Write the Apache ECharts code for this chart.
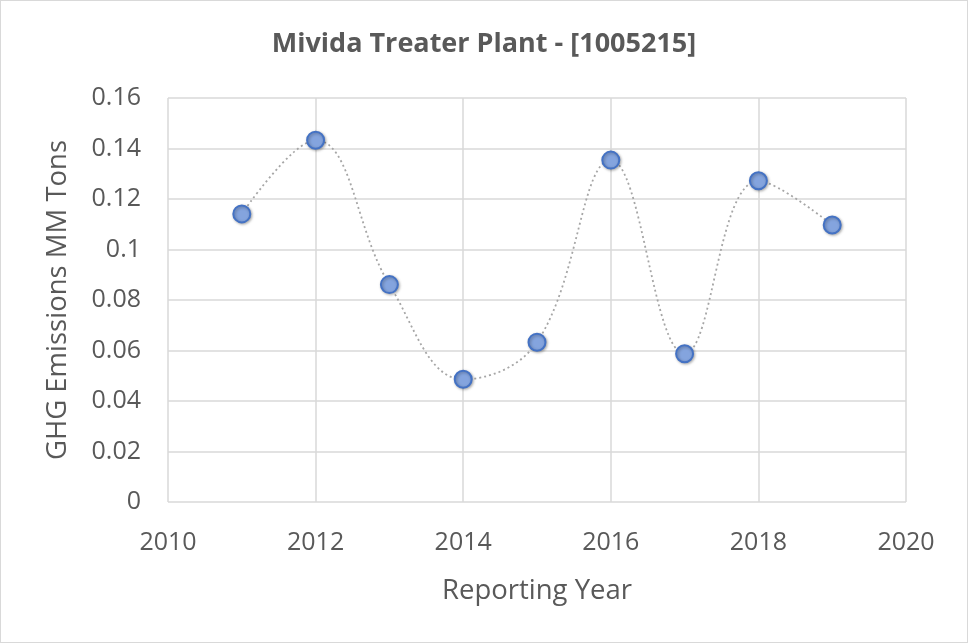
<!DOCTYPE html>
<html><head><meta charset="utf-8">
<script src="https://cdn.jsdelivr.net/npm/echarts@6/dist/echarts.min.js"></script>
<style>html,body{margin:0;padding:0;background:#fff}#c{width:968px;height:643px;box-sizing:border-box;border:1.5px solid #d9d9d9}</style>
</head><body><div id="c"></div>
<script>
const titleText = 'Mivida Treater Plant - [1005215]';
const years = [2011, 2012, 2013, 2014, 2015, 2016, 2017, 2018, 2019];
const emissions = [0.1141, 0.1433, 0.0861, 0.0486, 0.0633, 0.1354, 0.0587, 0.1272, 0.1097];
const xAxisName = 'Reporting Year';
const yAxisName = 'GHG Emissions MM Tons';

const chart = echarts.init(document.getElementById('c'));
const font = 'Open Sans, Noto Sans, sans-serif';
chart.setOption({
  animation: false,
  title: { text: titleText, left: 'center', top: 25,
    textStyle: { fontFamily: font, fontSize: 27, fontWeight: 'bold', color: '#595959' } },
  grid: { left: 167, right: 61, top: 97, bottom: 140, containLabel: false },
  xAxis: { type: 'value', min: 2010, max: 2020, interval: 2,
    name: xAxisName, nameLocation: 'middle', nameGap: 75,
    nameTextStyle: { fontFamily: font, fontSize: 27.5, color: '#595959' },
    axisLine: { show: false }, axisTick: { show: false },
    axisLabel: { fontFamily: font, fontSize: 25, color: '#595959', margin: 28,
      formatter: v => String(v) },
    splitLine: { show: true, lineStyle: { color: '#d9d9d9', width: 1.5 } } },
  yAxis: { type: 'value', min: 0, max: 0.16, interval: 0.02,
    name: yAxisName, nameLocation: 'middle', nameGap: 96, nameRotate: 90,
    nameTextStyle: { fontFamily: font, fontSize: 27.5, color: '#595959' },
    axisLine: { show: false }, axisTick: { show: false },
    axisLabel: { fontFamily: font, fontSize: 25, color: '#595959', margin: 27,
      formatter: v => String(Math.round(v * 100) / 100) },
    splitLine: { show: true, lineStyle: { color: '#d9d9d9', width: 1.5 } } },
  series: [{
    type: 'line', data: years.map((y, i) => [y, emissions[i]]),
    smooth: 0.4,
    lineStyle: { color: '#a6a6a6', width: 1.8, type: [2, 3] },
    symbol: 'circle', symbolSize: 17,
    itemStyle: { color: '#84a4de', borderColor: '#4472c4', borderWidth: 2,
      shadowColor: 'rgba(0,0,0,0.3)', shadowBlur: 3, shadowOffsetX: 1, shadowOffsetY: 1 }
  }]
});
</script></body></html>
